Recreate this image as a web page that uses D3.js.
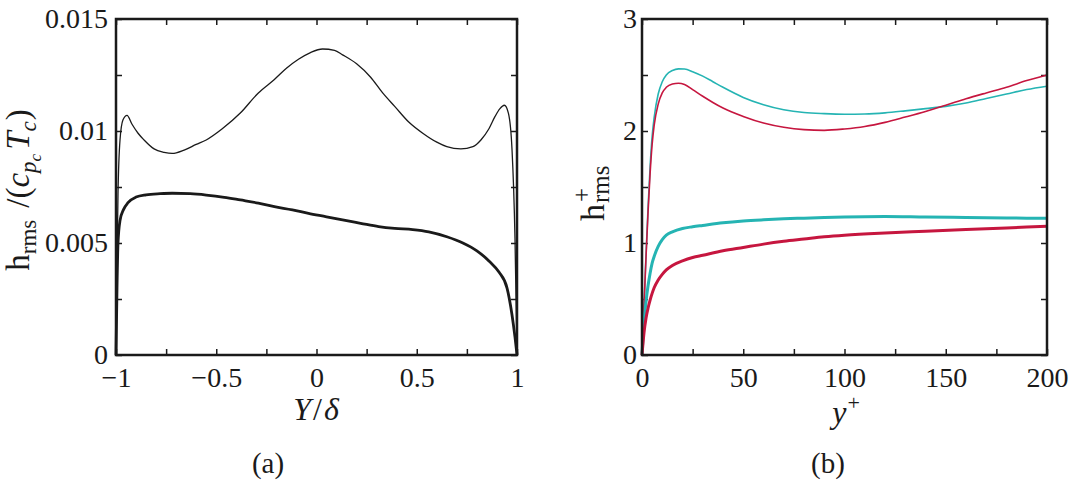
<!DOCTYPE html>
<html>
<head>
<meta charset="utf-8">
<script src="https://cdn.jsdelivr.net/npm/d3@7/dist/d3.min.js"></script>
<style>
  body { margin: 0; background: #fff; }
  svg { display: block; }
  .lab { fill: #1a1a1a; font-family: "Liberation Serif", "DejaVu Serif", serif; }
</style>
</head>
<body>
<svg id="chart" width="1077" height="486"></svg>
<script>

// ---- panel (a) data : h_rms/(cp_c T_c) vs Y/delta
var aThinX = [-1, -0.995, -0.99, -0.98, -0.965, -0.945, -0.92, -0.89, -0.86, -0.81, -0.76, -0.72,
    -0.66, -0.6, -0.55, -0.47, -0.38, -0.29, -0.21, -0.15, -0.09, -0.03, 0.03, 0.09, 0.13, 0.2,
    0.27, 0.33, 0.39, 0.46, 0.53, 0.6, 0.65, 0.72, 0.78, 0.82, 0.86, 0.89, 0.915, 0.937, 0.957,
    0.975, 0.99, 1];
var aThinY = [0, 0.004, 0.0072, 0.0096, 0.0105, 0.0107, 0.0103, 0.0099, 0.0096, 0.0092, 0.00905, 0.0090,
    0.00915, 0.0094, 0.0096, 0.0101, 0.0108, 0.0117, 0.0123, 0.0128, 0.0132, 0.0135, 0.01366, 0.0136, 0.0134, 0.0130,
    0.0124, 0.0117, 0.0111, 0.0104, 0.0099, 0.0095, 0.0093, 0.0092, 0.0093, 0.0096, 0.0101, 0.01064, 0.0110, 0.01115, 0.0108,
    0.0092, 0.0052, 0];

var aThickX = [-1, -0.995, -0.99, -0.98, -0.962, -0.94, -0.9, -0.85, -0.78, -0.72, -0.63, -0.55,
    -0.46, -0.38, -0.29, -0.21, -0.12, -0.04, 0.05, 0.13, 0.22, 0.31, 0.39, 0.48, 0.56, 0.65,
    0.73, 0.8, 0.86, 0.91, 0.95, 0.975, 0.99, 1];
var aThickY = [0, 0.003, 0.005, 0.006, 0.0065, 0.0068, 0.00705, 0.00715, 0.0072, 0.00722, 0.0072, 0.00714,
    0.00704, 0.00692, 0.00678, 0.00662, 0.00648, 0.00632, 0.00617, 0.00603, 0.00588, 0.00573, 0.00565, 0.0056, 0.0055, 0.00528,
    0.005, 0.00465, 0.0042, 0.0037, 0.003, 0.0018, 0.0008, 0];

var aXTicks = [-1, -0.75, -0.5, -0.25, 0, 0.25, 0.5, 0.75, 1];
var aXMajor = [-1, -0.5, 0, 0.5, 1];
var aXLabels = ["\u22121", "\u22120.5", "0", "0.5", "1"];
var aYTicks = [0, 0.0025, 0.005, 0.0075, 0.01, 0.0125, 0.015];
var aYMajor = [0, 0.005, 0.01, 0.015];
var aYLabels = ["0", "0.005", "0.01", "0.015"];

// ---- panel (b) data : h+_rms vs y+
var bThinX = [0, 1, 2, 3, 4, 5, 6, 8, 10, 12, 15, 18, 21, 25, 30, 35, 40, 50, 60, 70, 80, 90,
    100, 110, 120, 130, 140, 150, 160, 170, 180, 190, 200];
var bCyanThin = [0, 0.45, 0.9, 1.32, 1.68, 1.95, 2.12, 2.33, 2.44, 2.5, 2.54, 2.555, 2.553, 2.53, 2.49, 2.44,
    2.39, 2.3, 2.235, 2.19, 2.165, 2.155, 2.15, 2.152, 2.162, 2.18, 2.2, 2.22, 2.25, 2.29, 2.33, 2.37, 2.40];
var bRedThin = [0, 0.44, 0.88, 1.28, 1.62, 1.88, 2.05, 2.24, 2.34, 2.39, 2.42, 2.427, 2.415, 2.37, 2.31, 2.255,
    2.205, 2.13, 2.071, 2.033, 2.012, 2.006, 2.018, 2.04, 2.077, 2.125, 2.175, 2.23, 2.288, 2.34, 2.39, 2.45, 2.50];

var bThickX = [0, 1, 2, 3, 4, 5, 6, 8, 10, 12, 15, 20, 25, 30, 40, 50, 60, 70, 80, 90, 100,
    120, 140, 160, 180, 200];
var bCyanThick = [0, 0.3, 0.48, 0.62, 0.73, 0.82, 0.88, 0.97, 1.03, 1.07, 1.1, 1.13, 1.145, 1.157, 1.18, 1.196,
    1.207, 1.216, 1.222, 1.228, 1.233, 1.237, 1.232, 1.228, 1.224, 1.22];
var bRedThick = [0, 0.2, 0.33, 0.42, 0.49, 0.55, 0.6, 0.67, 0.72, 0.76, 0.8, 0.84, 0.87, 0.89, 0.93, 0.96,
    0.99, 1.015, 1.035, 1.055, 1.07, 1.09, 1.105, 1.12, 1.135, 1.15];

var bXTicks = [0, 25, 50, 75, 100, 125, 150, 175, 200];
var bXMajor = [0, 50, 100, 150, 200];
var bXLabels = ["0", "50", "100", "150", "200"];
var bYTicks = [0, 0.5, 1, 1.5, 2, 2.5, 3];
var bYMajor = [0, 1, 2, 3];
var bYLabels = ["0", "1", "2", "3"];

var CYAN = "#25b4b3";
var RED = "#c6163f";
var INK = "#1a1a1a";
var SERIF = "'Liberation Serif', 'DejaVu Serif', serif";

var svg = d3.select("#chart");

function labelFor(major, labels) {
    return function(d) {
        for (var i = 0; i < major.length; i++) {
            if (Math.abs(major[i] - d) < 1e-9) return labels[i];
        }
        return "";
    };
}

function zip(xs, ys) {
    return xs.map(function(v, i) { return [v, ys[i]]; });
}

function drawPanel(p) {
    var w = p.right - p.left, h = p.bottom - p.top;
    var g = svg.append("g")
        .attr("transform", "translate(" + p.left + "," + p.top + ")");

    var x = d3.scaleLinear().domain(p.xDomain).range([0, w]);
    var y = d3.scaleLinear().domain(p.yDomain).range([h, 0]);

    // ticks on all four sides, pointing inward
    g.append("g")
        .attr("transform", "translate(0," + h + ")")
        .call(d3.axisBottom(x).tickValues(p.xTicks).tickSizeInner(-6).tickSizeOuter(0)
            .tickPadding(12).tickFormat(labelFor(p.xMajor, p.xLabels)));
    g.append("g")
        .call(d3.axisTop(x).tickValues(p.xTicks).tickSizeInner(-6).tickSizeOuter(0).tickFormat(""));
    g.append("g")
        .call(d3.axisLeft(y).tickValues(p.yTicks).tickSizeInner(-6).tickSizeOuter(0)
            .tickPadding(p.yPad).tickFormat(labelFor(p.yMajor, p.yLabels)));
    g.append("g")
        .attr("transform", "translate(" + w + ",0)")
        .call(d3.axisRight(y).tickValues(p.yTicks).tickSizeInner(-6).tickSizeOuter(0).tickFormat(""));
    g.selectAll(".domain").remove();
    g.selectAll(".tick line")
        .attr("stroke", INK)
        .attr("stroke-width", 1.5);
    g.selectAll(".tick text")
        .style("font-family", SERIF)
        .style("font-size", "28px")
        .attr("fill", INK);

    var line = d3.line()
        .x(function(d) { return x(d[0]); })
        .y(function(d) { return y(d[1]); })
        .curve(d3.curveMonotoneX);

    g.selectAll("path.series")
        .data(p.series)
        .enter()
        .append("path")
        .classed("series", true)
        .attr("d", function(d) { return line(d.pts); })
        .attr("fill", "none")
        .attr("stroke", function(d) { return d.color; })
        .attr("stroke-width", function(d) { return d.width; })
        .attr("stroke-linejoin", "round");

    // frame
    g.append("rect")
        .attr("width", w)
        .attr("height", h)
        .attr("fill", "none")
        .attr("stroke", INK)
        .attr("stroke-width", 2.5);
    return g;
}

drawPanel({
    left: 116, right: 517, top: 19, bottom: 355,
    xDomain: [-1, 1], yDomain: [0, 0.015],
    xTicks: aXTicks, xMajor: aXMajor, xLabels: aXLabels,
    yTicks: aYTicks, yMajor: aYMajor, yLabels: aYLabels, yPad: 8,
    series: [
        {pts: zip(aThinX, aThinY), color: INK, width: 1.3},
        {pts: zip(aThickX, aThickY), color: INK, width: 2.8}
    ]
});

drawPanel({
    left: 642, right: 1047, top: 19, bottom: 355,
    xDomain: [0, 200], yDomain: [0, 3],
    xTicks: bXTicks, xMajor: bXMajor, xLabels: bXLabels,
    yTicks: bYTicks, yMajor: bYMajor, yLabels: bYLabels, yPad: 5,
    series: [
        {pts: zip(bThinX, bCyanThin), color: CYAN, width: 1.6},
        {pts: zip(bThinX, bRedThin), color: RED, width: 1.6},
        {pts: zip(bThickX, bCyanThick), color: CYAN, width: 3},
        {pts: zip(bThickX, bRedThick), color: RED, width: 3}
    ]
});

// ---- axis titles
var t;

// Y/delta
t = svg.append("text").attr("class", "lab")
    .attr("x", 316).attr("y", 420)
    .attr("text-anchor", "middle")
    .attr("font-size", 32);
t.append("tspan").attr("font-style", "italic").text("Y");
t.append("tspan").attr("dx", 2).text("/");
t.append("tspan").attr("dx", 2).attr("font-style", "italic").text("\u03b4");

// h_rms /(c_{p_c} T_c)
t = svg.append("text").attr("class", "lab")
    .attr("transform", "translate(29,190) rotate(-90)")
    .attr("text-anchor", "middle")
    .attr("font-size", 33);
t.append("tspan").text("h");
t.append("tspan").attr("font-size", 23).attr("dy", 7).text("rms");
t.append("tspan").attr("dy", -7).attr("dx", 12).text("/(");
t.append("tspan").attr("font-style", "italic").text("c");
t.append("tspan").attr("font-style", "italic").attr("font-size", 23).attr("dy", 7).text("p");
t.append("tspan").attr("font-style", "italic").attr("font-size", 17).attr("dy", 5).text("c");
t.append("tspan").attr("font-style", "italic").attr("dy", -12).attr("dx", 4).text("T");
t.append("tspan").attr("font-style", "italic").attr("font-size", 23).attr("dy", 7).text("c");
t.append("tspan").attr("dy", -7).attr("dx", 1).text(")");

// y+
t = svg.append("text").attr("class", "lab")
    .attr("x", 846).attr("y", 423)
    .attr("text-anchor", "middle")
    .attr("font-size", 32);
t.append("tspan").attr("font-style", "italic").text("y");
t.append("tspan").attr("font-size", 22).attr("dy", -13).attr("dx", 1).text("+");

// h+_rms (sub and sup stacked)
var hl = svg.append("g")
    .attr("transform", "translate(604,221) rotate(-90)");
hl.append("text").attr("class", "lab").attr("font-size", 34).attr("x", 0).attr("y", 0).text("h");
hl.append("text").attr("class", "lab").attr("font-size", 25).attr("x", 18).attr("y", 5).text("rms");
hl.append("text").attr("class", "lab").attr("font-size", 25).attr("x", 19).attr("y", -14).text("+");

// panel captions
svg.append("text").attr("class", "lab")
    .attr("x", 268).attr("y", 473)
    .attr("text-anchor", "middle")
    .attr("font-size", 29)
    .text("(a)");
svg.append("text").attr("class", "lab")
    .attr("x", 828).attr("y", 473)
    .attr("text-anchor", "middle")
    .attr("font-size", 29)
    .text("(b)");
</script>
</body>
</html>
